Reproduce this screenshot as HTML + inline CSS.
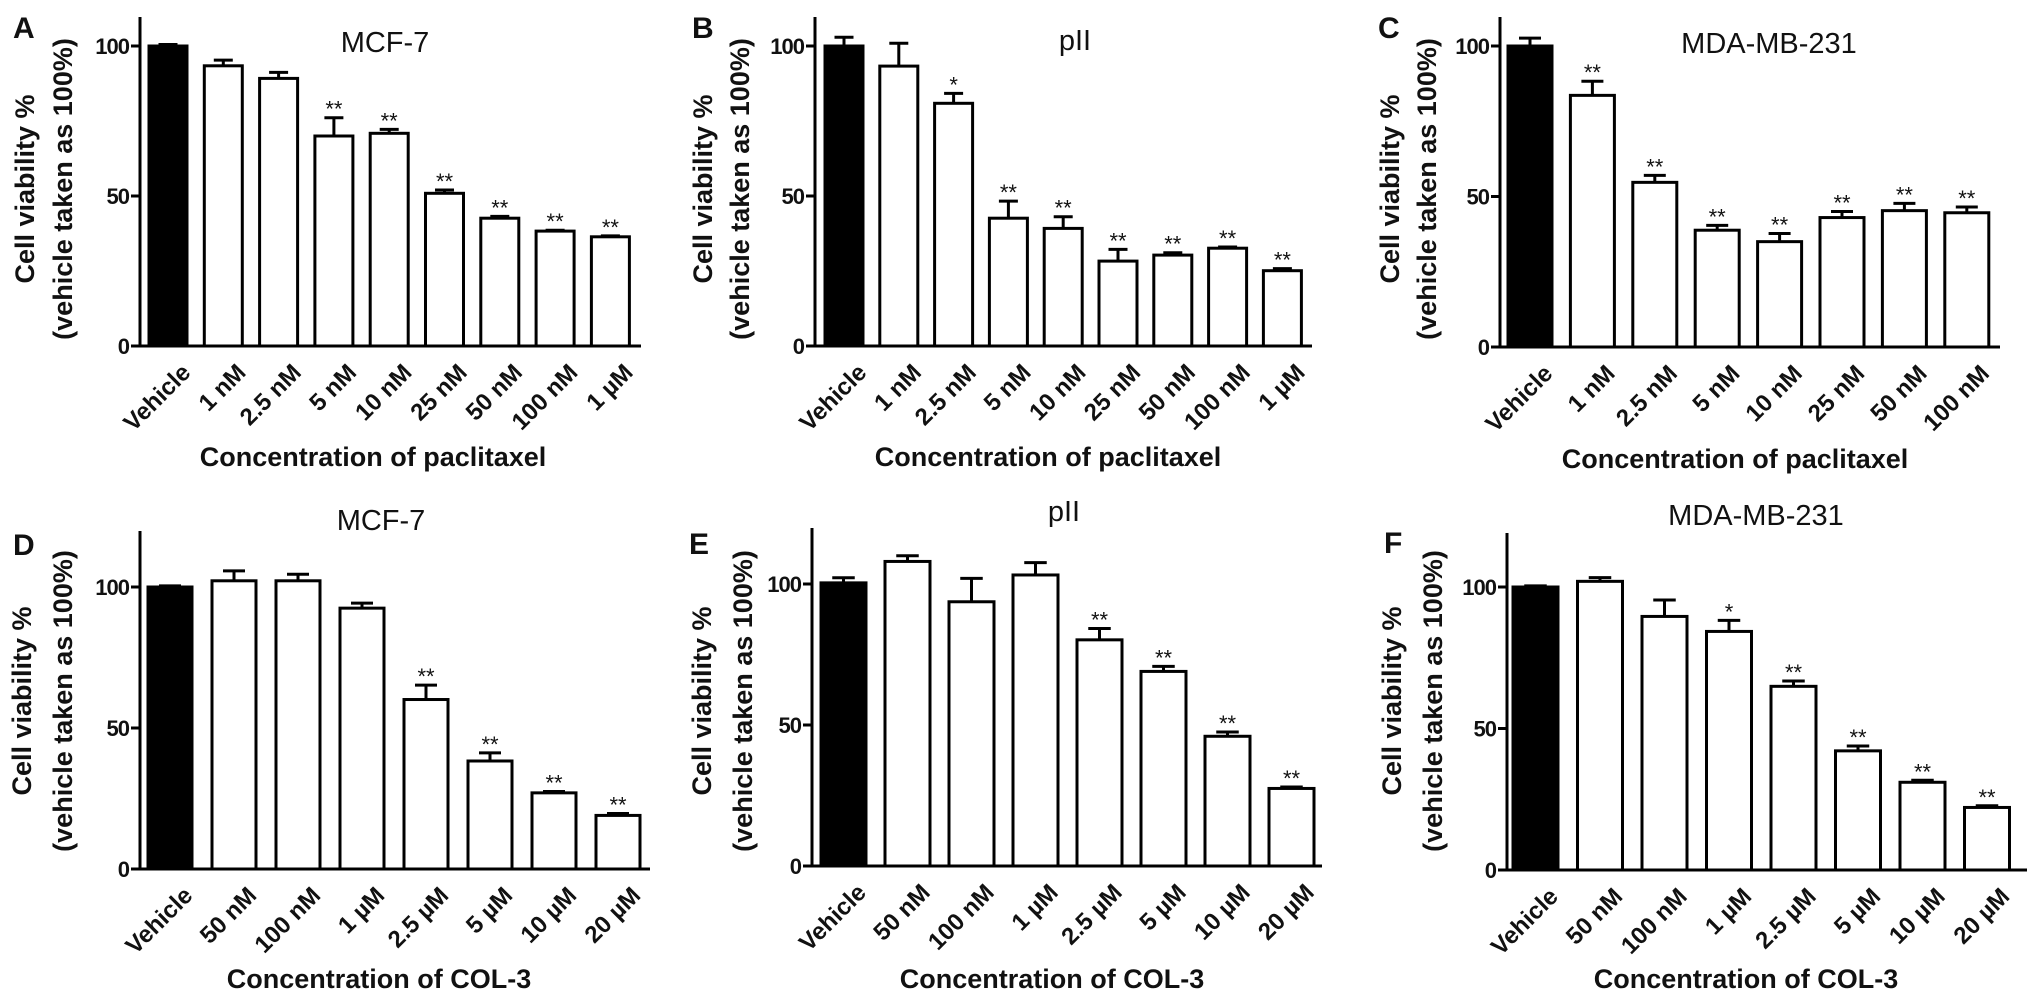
<!DOCTYPE html>
<html><head><meta charset="utf-8">
<style>
html,body{margin:0;padding:0;background:#fff;}
svg{display:block;}
text{font-family:"Liberation Sans",Arial,sans-serif;fill:#111;}
.b{font-weight:bold;}
</style></head>
<body>
<svg id="fig" width="2031" height="1003" viewBox="0 0 2031 1003" xmlns="http://www.w3.org/2000/svg"></svg>
<script>
// ---- data ----
const catsPac9 = ["Vehicle","1 nM","2.5 nM","5 nM","10 nM","25 nM","50 nM","100 nM","1 \u00b5M"];
const catsPac8 = ["Vehicle","1 nM","2.5 nM","5 nM","10 nM","25 nM","50 nM","100 nM"];
const catsCol = ["Vehicle","50 nM","100 nM","1 \u00b5M","2.5 \u00b5M","5 \u00b5M","10 \u00b5M","20 \u00b5M"];
const yTicks = [0,50,100];

const valsA = [100,93.4,89.2,70,70.9,50.9,42.6,38.3,36.4];
const errA  = [0.5,1.9,2.0,6.1,1.3,1.1,0.6,0.3,0.3];
const starsA = ["","","","**","**","**","**","**","**"];

const valsB = [100,93.3,80.9,42.6,39.2,28.3,30.3,32.6,25.1];
const errB  = [2.9,7.6,3.3,5.7,3.9,3.9,0.8,0.4,0.7];
const starsB = ["","","*","**","**","**","**","**","**"];

const valsC = [100,83.6,54.7,38.8,35,43,45.3,44.6];
const errC  = [2.6,4.7,2.3,1.6,2.7,2.0,2.4,1.9];
const starsC = ["","**","**","**","**","**","**","**"];

const valsD = [100,102.2,102.2,92.5,60.1,38.3,27,19];
const errD  = [0.4,3.5,2.3,1.8,5.1,2.9,0.5,0.7];
const starsD = ["","","","","**","**","**","**"];

const valsE = [100.4,108,93.7,103.2,80.2,69,46,27.5];
const errE  = [1.8,2.0,8.3,4.4,4.0,1.8,1.5,0.5];
const starsE = ["","","","","**","**","**","**"];

const valsF = [100,102,89.6,84.3,64.9,42.1,31,22.1];
const errF  = [0.4,1.3,5.8,3.9,1.9,1.7,0.7,0.6];
const starsF = ["","","","*","**","**","**","**"];

// ---- layout ----
const panels = [
 {id:"a",letter:"A",lx:13,ly:38,title:"MCF-7",tx:385,ty:52,cats:catsPac9,vals:valsA,errs:errA,stars:starsA,
  ax:140,top:17,y0:346,y100:46,b0:149,bw:38,sp:55.3,aend:641,yt1:25,yt2:63,ytc:189,xt:"Concentration of paclitaxel",xtx:373,xty:466},
 {id:"b",letter:"B",lx:692,ly:38,title:"pII",tx:1075,ty:50,cats:catsPac9,vals:valsB,errs:errB,stars:starsB,
  ax:815,top:17,y0:346,y100:46,b0:825,bw:38,sp:54.8,aend:1312,yt1:703,yt2:740,ytc:189,xt:"Concentration of paclitaxel",xtx:1048,xty:466},
 {id:"c",letter:"C",lx:1378,ly:38,title:"MDA-MB-231",tx:1769,ty:53,cats:catsPac8,vals:valsC,errs:errC,stars:starsC,
  ax:1500,top:17,y0:347,y100:46,b0:1508,bw:44,sp:62.4,aend:2000,yt1:1390,yt2:1427,ytc:189,xt:"Concentration of paclitaxel",xtx:1735,xty:468},
 {id:"d",letter:"D",lx:13,ly:555,title:"MCF-7",tx:381,ty:530,cats:catsCol,vals:valsD,errs:errD,stars:starsD,
  ax:140,top:531,y0:869,y100:587,b0:148,bw:44,sp:64,aend:650,yt1:22,yt2:63,ytc:701,xt:"Concentration of COL-3",xtx:379,xty:988},
 {id:"e",letter:"E",lx:689,ly:554,title:"pII",tx:1064,ty:521,cats:catsCol,vals:valsE,errs:errE,stars:starsE,
  ax:812,top:528,y0:866,y100:584,b0:821,bw:45,sp:64,aend:1322,yt1:702,yt2:743,ytc:701,xt:"Concentration of COL-3",xtx:1052,xty:988},
 {id:"f",letter:"F",lx:1384,ly:553,title:"MDA-MB-231",tx:1756,ty:525,cats:catsCol,vals:valsF,errs:errF,stars:starsF,
  ax:1507,top:533,y0:870,y100:587,b0:1513,bw:45,sp:64.5,aend:2027,yt1:1392,yt2:1433,ytc:701,xt:"Concentration of COL-3",xtx:1746,xty:988}
];

const NS="http://www.w3.org/2000/svg";
const svg=document.getElementById("fig");
function mk(tag,parent){const e=document.createElementNS(NS,tag);parent.appendChild(e);return e;}

panels.forEach(p=>{
  const g=mk("g",svg);
  
  
  const yS=v=>p.y0-(p.y100-p.y0)*-1*v/100*-1; // placeholder replaced below
  const y=v=>p.y0+(p.y100-p.y0)*v/100;
  const xL=i=>p.b0+p.sp*i;

  // letter
  let t=mk("text",g);
  
  
  t.setAttribute("x",p.lx);t.setAttribute("y",p.ly);t.setAttribute("class","b");t.setAttribute("font-size","30");t.textContent=p.letter;

  // title
  t=mk("text",g);
  
  
  t.setAttribute("x",p.tx);t.setAttribute("y",p.ty);t.setAttribute("text-anchor","middle");t.setAttribute("font-size","29");t.textContent=p.title;

  // y-axis title
  t=mk("text",g);
  
  
  t.setAttribute("class","b");t.setAttribute("font-size","27");t.setAttribute("text-anchor","middle");
  t.setAttribute("transform","translate("+(p.yt1+9)+","+p.ytc+") rotate(-90)");
  t.textContent="Cell viability %";
  t=mk("text",g);
  
  
  t.setAttribute("class","b");t.setAttribute("font-size","27");t.setAttribute("text-anchor","middle");
  t.setAttribute("transform","translate("+(p.yt2+9)+","+p.ytc+") rotate(-90)");
  t.textContent="(vehicle taken as 100%)";

  // x-axis title
  t=mk("text",g);
  
  
  t.setAttribute("x",p.xtx);t.setAttribute("y",p.xty);t.setAttribute("text-anchor","middle");t.setAttribute("class","b");t.setAttribute("font-size","27");
  t.textContent=p.xt;

  // bars
  p.vals.forEach((v,i)=>{
    const x=xL(i), cx=x+p.bw/2, top=y(v), cap=y(v+p.errs[i]);
    const eb=mk("line",g);
    
    
    eb.setAttribute("x1",cx);eb.setAttribute("x2",cx);eb.setAttribute("y1",top);eb.setAttribute("y2",cap);
    eb.setAttribute("stroke","#000");eb.setAttribute("stroke-width","3");
    const ec=mk("line",g);
    
    
    ec.setAttribute("x1",cx-p.bw*0.25);ec.setAttribute("x2",cx+p.bw*0.25);ec.setAttribute("y1",cap);ec.setAttribute("y2",cap);
    ec.setAttribute("stroke","#000");ec.setAttribute("stroke-width","3");
    const r=mk("rect",g);
    
    
    r.setAttribute("x",x);r.setAttribute("y",top);r.setAttribute("width",p.bw);r.setAttribute("height",p.y0-top);
    r.setAttribute("fill",i===0?"#000":"#fff");r.setAttribute("stroke","#000");r.setAttribute("stroke-width","3");
    if(p.stars[i]){
      const s=mk("text",g);
      
      
      s.setAttribute("x",cx);s.setAttribute("y",cap-1);s.setAttribute("text-anchor","middle");s.setAttribute("font-size","22");
      s.setAttribute("fill","#444");s.textContent=p.stars[i];
    }
    const lb=mk("text",g);
    
    
    const lx=cx+12, ly=p.y0+16;
    lb.setAttribute("transform","translate("+lx+","+ly+") rotate(-45)");
    lb.setAttribute("text-anchor","end");lb.setAttribute("class","b");lb.setAttribute("font-size","24");
    lb.setAttribute("dy","0.7em");
    lb.textContent=p.cats[i];
  });

  // axes
  const ya=mk("line",g);
  
  
  ya.setAttribute("x1",p.ax);ya.setAttribute("x2",p.ax);ya.setAttribute("y1",p.top);ya.setAttribute("y2",p.y0+1.5);
  ya.setAttribute("stroke","#000");ya.setAttribute("stroke-width","3");
  const xa=mk("line",g);
  
  
  xa.setAttribute("x1",p.ax-9);xa.setAttribute("x2",p.aend);xa.setAttribute("y1",p.y0);xa.setAttribute("y2",p.y0);
  xa.setAttribute("stroke","#000");xa.setAttribute("stroke-width","3");
  yTicks.forEach(v=>{
    const tk=mk("line",g);
    
    
    tk.setAttribute("x1",p.ax-9);tk.setAttribute("x2",p.ax);tk.setAttribute("y1",y(v));tk.setAttribute("y2",y(v));
    tk.setAttribute("stroke","#000");tk.setAttribute("stroke-width","3");
    const tl=mk("text",g);
    
    
    tl.setAttribute("x",p.ax-11);tl.setAttribute("y",y(v)+8);tl.setAttribute("text-anchor","end");
    tl.setAttribute("class","b");tl.setAttribute("font-size","22");tl.setAttribute("letter-spacing","-1");
    tl.textContent=v;
  });
});
</script>
</body></html>
